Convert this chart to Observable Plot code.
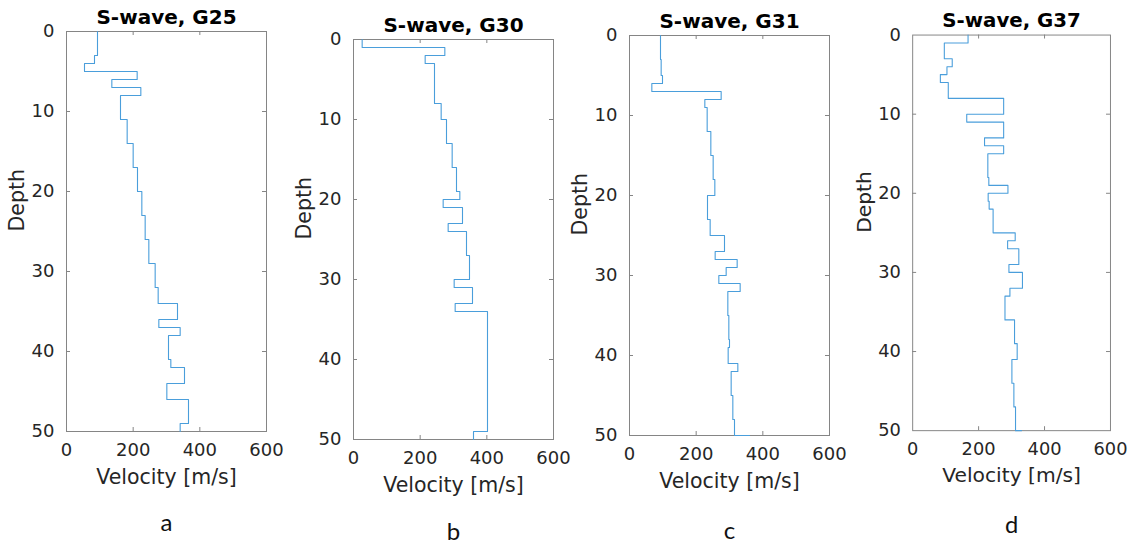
<!DOCTYPE html>
<html><head><meta charset="utf-8">
<script src="https://cdn.jsdelivr.net/npm/d3@7"></script>
<script src="https://cdn.jsdelivr.net/npm/@observablehq/plot@0.6"></script>
<style>
html,body{margin:0;padding:0;background:#fff;}
#root{position:relative;width:1135px;height:543px;overflow:hidden;background:#fff;}
.panel{position:absolute;}
</style></head><body><div id="root"></div>
<script>
// ---- data ----
const titles = ["S-wave, G25", "S-wave, G30", "S-wave, G31", "S-wave, G37"];
const letters = ["a", "b", "c", "d"];
const xLabel = "Velocity [m/s]";
const yLabel = "Depth";
const xTicks = [0, 200, 400, 600];
const yTicks = [0, 10, 20, 30, 40, 50];

const depthG25 = [0,3,4,5,6,7,8,11,14,17,20,23,26,29,32,34,36,37,38,41,42,44,46,49,50];
const velG25   = [93,84,54,212,136,223,162,182,200,213,226,236,247,266,275,333,277,341,306,313,354,301,366,341,341];

const depthG30 = [0,1,2,3,8,10,13,16,19,20,21,23,24,27,30,31,33,34,49,50];
const velG30   = [26,274,215,243,263,279,296,309,319,269,327,284,339,348,302,357,305,402,360,360];

const depthG31 = [0,3,5,6,7,8,9,12,15,18,20,23,25,27,28,29,30,31,32,35,38,39,41,42,45,48,50];
const velG31   = [93,95,99,67,275,226,233,244,251,256,234,242,285,257,323,290,268,332,295,298,300,296,325,305,310,315,360];

const depthG37 = [0,1,3,4,5,6,8,10,11,13,14,15,18,19,20,21,22,25,26,27,29,30,32,33,36,39,41,44,47,50];
const velG37   = [168,96,120,104,84,108,276,164,276,218,276,228,231,289,229,232,244,311,288,322,292,333,295,280,309,317,301,307,312,330];

const series = [[depthG25, velG25], [depthG30, velG30], [depthG31, velG31], [depthG37, velG37]];

// ---- layout ----
const ML = 75, MT = 40, MR = 25, MB = 115, FW = 200, FH = 400;
const pos = [
  {left: 66.3, top: 30.7, letterDy: 99},
  {left: 352.7, top: 38.5, letterDy: 100},
  {left: 629.3, top: 35.3, letterDy: 103},
  {left: 913.3, top: 35.3, letterDy: 103}
];
const frameColor = "#858585";
const lineColor = "#4a9edb";

const root = document.getElementById("root");
series.forEach(([depth, vel], i) => {
  const data = depth.map((d, k) => ({d, v: vel[k]}));
  const inner = xTicks.slice(1, -1);
  const innerY = yTicks.slice(1, -1);
  const plot = Plot.plot({
    width: ML + FW + MR, height: MT + FH + MB,
    marginLeft: ML, marginTop: MT, marginRight: MR, marginBottom: MB,
    x: {domain: [0, 600]},
    y: {domain: [0, 50], reverse: true},
    style: {fontFamily: "DejaVu Sans", fontSize: "18px", color: "#262626", background: "transparent", overflow: "visible"},
    marks: [
      Plot.ruleX(inner, {stroke: frameColor, insetTop: FH - 4}),
      Plot.ruleX(inner, {stroke: frameColor, insetBottom: FH - 4}),
      Plot.ruleY(innerY, {stroke: frameColor, insetRight: FW - 4}),
      Plot.ruleY(innerY, {stroke: frameColor, insetLeft: FW - 4}),
      Plot.frame({stroke: frameColor}),
      Plot.axisX(xTicks, {tickSize: 0, tickPadding: 12, label: null, fontSize: 18}),
      Plot.axisY(yTicks, {tickSize: 0, tickPadding: 12, label: null, fontSize: 18}),
      Plot.line(data, {x: "v", y: "d", curve: "step-before", stroke: lineColor, strokeWidth: 1.1}),
      Plot.text([titles[i]], {frameAnchor: "top", dy: -8, lineAnchor: "bottom", fontWeight: "bold", fontSize: 20, fill: "#000"}),
      Plot.text([xLabel], {frameAnchor: "bottom", dy: 52, lineAnchor: "bottom", fontSize: 20.5}),
      Plot.text([yLabel], {frameAnchor: "left", dx: -49, rotate: -90, lineAnchor: "middle", fontSize: 20.5}),
      Plot.text([letters[i]], {frameAnchor: "bottom", dy: pos[i].letterDy, lineAnchor: "bottom", fontSize: 24, fontFamily: "Lato", fill: "#111"})
    ]
  });
  const div = document.createElement("div");
  div.className = "panel";
  div.style.left = (pos[i].left - ML) + "px";
  div.style.top = (pos[i].top - MT) + "px";
  div.appendChild(plot);
  root.appendChild(div);
});
</script>
</body></html>
